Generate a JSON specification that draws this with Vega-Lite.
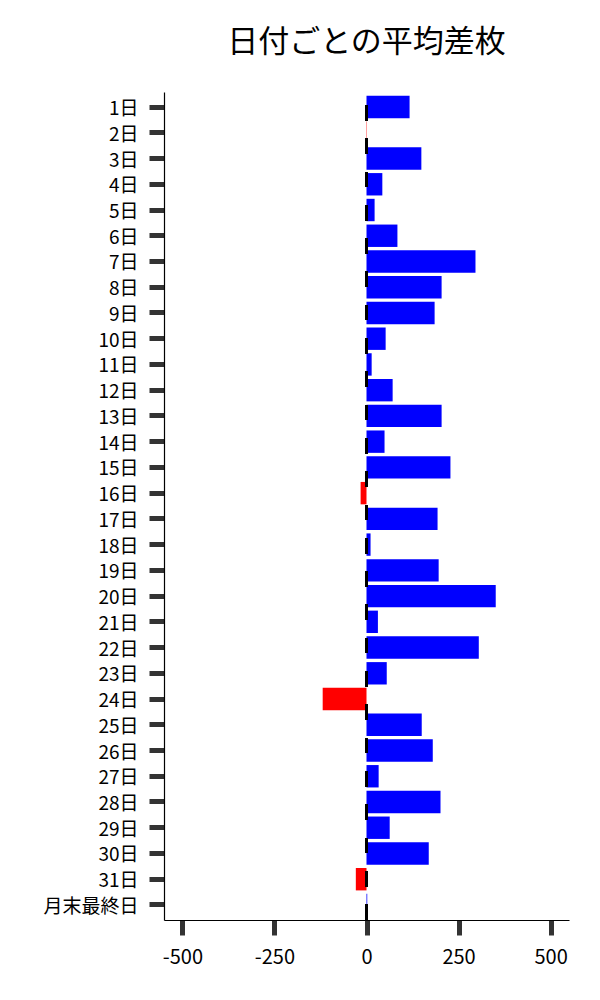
{
  "$schema": "https://vega.github.io/schema/vega-lite/v6.json",
  "autosize": "none",
  "padding": {"left": 164, "top": 92, "right": 31, "bottom": 80},
  "width": 405,
  "height": 828,
  "background": "white",
  "title": {
    "text": "日付ごとの平均差枚",
    "font": "Noto Sans CJK JP",
    "fontSize": 31,
    "fontWeight": "normal",
    "color": "black",
    "anchor": "middle",
    "frame": "group",
    "baseline": "alphabetic",
    "offset": 8
  },
  "data": {
    "values": [
      {"day": "1日", "diff": 117},
      {"day": "2日", "diff": -1},
      {"day": "3日", "diff": 149},
      {"day": "4日", "diff": 43},
      {"day": "5日", "diff": 22},
      {"day": "6日", "diff": 84},
      {"day": "7日", "diff": 296},
      {"day": "8日", "diff": 204},
      {"day": "9日", "diff": 185},
      {"day": "10日", "diff": 52},
      {"day": "11日", "diff": 14},
      {"day": "12日", "diff": 71},
      {"day": "13日", "diff": 204},
      {"day": "14日", "diff": 49},
      {"day": "15日", "diff": 228},
      {"day": "16日", "diff": -16},
      {"day": "17日", "diff": 193},
      {"day": "18日", "diff": 11},
      {"day": "19日", "diff": 196},
      {"day": "20日", "diff": 351},
      {"day": "21日", "diff": 31},
      {"day": "22日", "diff": 305},
      {"day": "23日", "diff": 55},
      {"day": "24日", "diff": -119},
      {"day": "25日", "diff": 150},
      {"day": "26日", "diff": 180},
      {"day": "27日", "diff": 33},
      {"day": "28日", "diff": 201},
      {"day": "29日", "diff": 63},
      {"day": "30日", "diff": 169},
      {"day": "31日", "diff": -29},
      {"day": "月末最終日", "diff": 2}
    ]
  },
  "layer": [
    {
      "mark": {"type": "bar"},
      "encoding": {
        "y": {
          "field": "day",
          "type": "nominal",
          "sort": null,
          "scale": {"paddingInner": 0.13, "paddingOuter": 0.15},
          "axis": {
            "title": null,
            "labelFont": "Noto Sans CJK JP",
            "labelFontSize": 19,
            "labelColor": "black",
            "labelPadding": 11,
            "labelOffset": 2,
            "tickSize": 15,
            "tickWidth": 5,
            "tickColor": "#333333",
            "domainColor": "black",
            "domainWidth": 1.2
          }
        },
        "x": {
          "field": "diff",
          "type": "quantitative",
          "scale": {"domain": [-550, 550], "nice": false, "zero": false},
          "axis": {
            "title": null,
            "values": [-500, -250, 0, 250, 500],
            "labelExpr": "'' + datum.value",
            "grid": false,
            "labelFont": "Noto Sans CJK JP",
            "labelFontSize": 20,
            "labelColor": "black",
            "labelPadding": 12,
            "tickSize": 15,
            "tickWidth": 5,
            "tickColor": "#333333",
            "domainColor": "black",
            "domainWidth": 1.2
          }
        },
        "color": {
          "condition": {"test": "datum.diff < 0", "value": "#ff0000"},
          "value": "#0000ff"
        }
      }
    },
    {
      "mark": {
        "type": "rule",
        "color": "black",
        "strokeWidth": 2,
        "strokeDash": [15, 18.3],
        "strokeDashOffset": 20
      },
      "encoding": {"x": {"datum": 0}}
    }
  ],
  "config": {
    "view": {"stroke": null},
    "axis": {"domainCap": "butt"}
  }
}
